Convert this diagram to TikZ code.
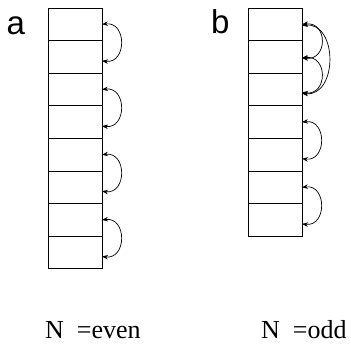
\documentclass[tikz,border=0pt]{standalone}
\usepackage{fontspec}
\setmainfont{Liberation Serif}
\newfontfamily\panelfont{Liberation Sans}
\usetikzlibrary{arrows.meta}
\begin{document}
\begin{tikzpicture}[x=1pt,y=-1pt,
  cell/.style={draw, line width=0.8pt, minimum width=54pt, minimum height=32.6pt,
    inner sep=0pt, outer sep=0pt},
  link/.style={{Stealth[length=6pt,width=4.5pt]}-{Stealth[length=6pt,width=4.5pt]}, line width=0.7pt},
  panel/.style={anchor=base west, inner sep=0pt, font=\panelfont\fontsize{33}{33}\selectfont},
  caption/.style={anchor=base west, inner sep=0pt, font=\fontsize{26}{26}\selectfont}]
\useasboundingbox (0,0) rectangle (351,345);

% panel a: eight cells, paired
\foreach \i in {1,...,8}
  \node[cell] (a\i) at (75, {8+32.6*(\i-0.5)}) {};
\foreach \u/\l in {1/2,3/4,5/6,7/8}
  \draw[link] (a\u.east) .. controls +(25,-3) and +(25,3) .. ([yshift=-4pt]a\l.east);

% panel b: seven cells, one triple and two pairs
\foreach \i in {1,...,7}
  \node[cell] (b\i) at (275, {8+32.6*(\i-0.5)}) {};
\draw[link] (b1.east) .. controls +(26,-3) and +(26,3) .. ([yshift=-1pt]b2.east);
\draw[link] ([yshift=-1pt]b2.east) .. controls +(26,-3) and +(26,3) .. ([yshift=-3pt]b3.east);
\draw[link] ([yshift=-1pt]b1.east) .. controls +(36,-3) and +(36,3) .. ([yshift=-4pt]b3.east);
\draw[link] (b4.east) .. controls +(25,-3) and +(25,3) .. ([yshift=-4pt]b5.east);
\draw[link] (b6.east) .. controls +(25,-3) and +(25,3) .. ([yshift=-4pt]b7.east);

% labels
\node[panel] (la) at (6.5,35) {a};
\node[panel] (lb) at (211,34) {b};
\node[caption] (ca) at (45,338) {N\hspace{13pt}=even};
\node[caption] (cb) at (261,338) {N\hspace{13pt}=odd};
\end{tikzpicture}
\end{document}
